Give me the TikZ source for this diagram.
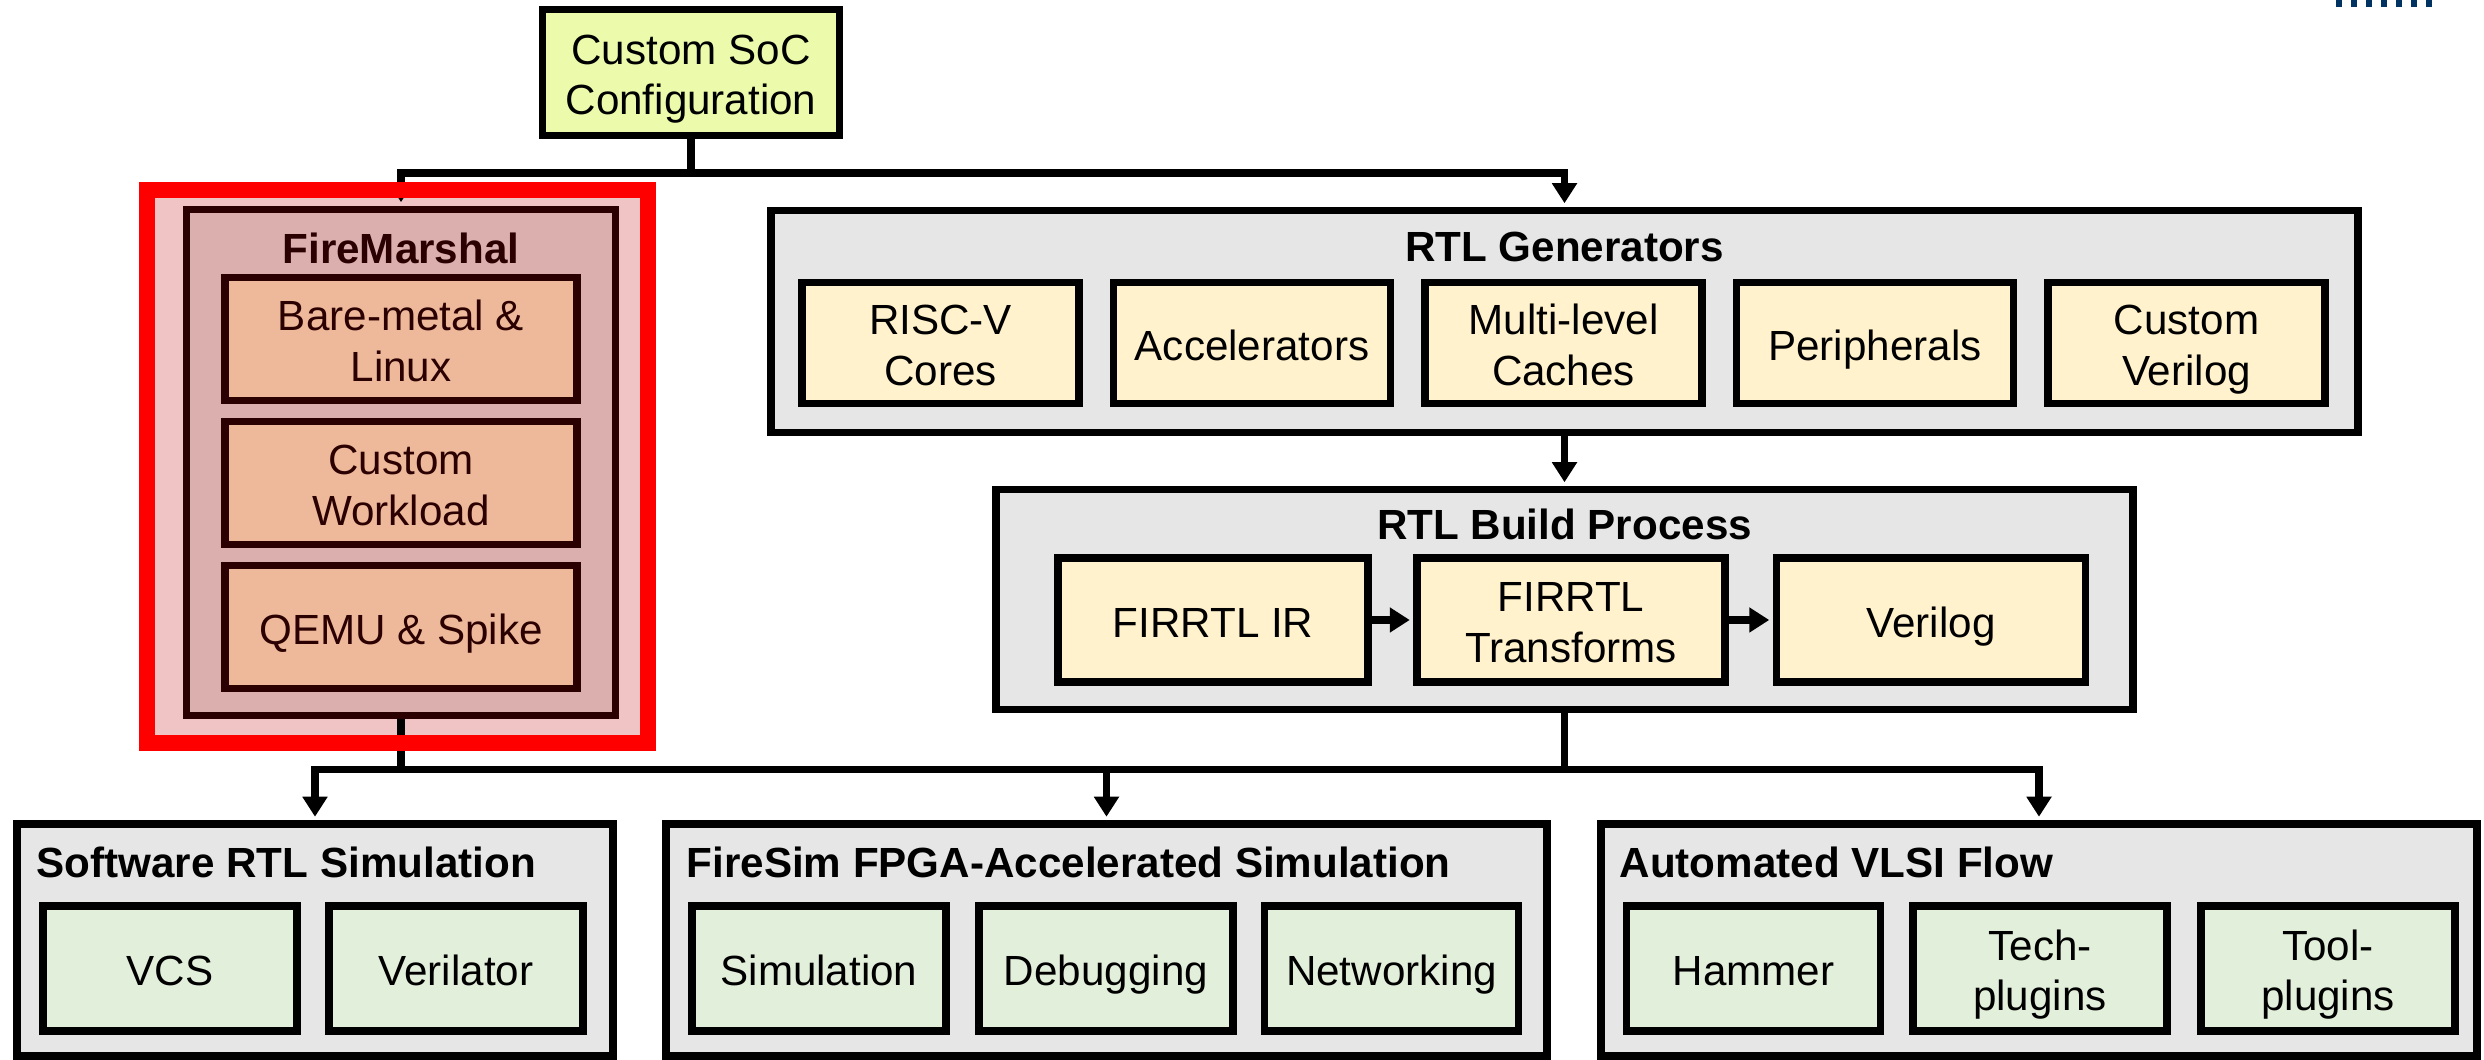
\documentclass[tikz,border=0pt]{standalone}
\usepackage{fontspec}
\setmainfont{Liberation Sans}
\usetikzlibrary{arrows.meta}
\definecolor{socfill}{HTML}{EBFBAB}
\definecolor{grpfill}{HTML}{E6E6E6}
\definecolor{rtlfill}{HTML}{FFF2CC}
\definecolor{simfill}{HTML}{E2EFDA}
\definecolor{hlred}{HTML}{FF0000}
\definecolor{hlpink}{HTML}{F0C4C4}
\definecolor{fmfill}{HTML}{DCAFAF}
\definecolor{fmbox}{HTML}{EEB89A}
\definecolor{fmline}{HTML}{2B0000}
\definecolor{calblue}{HTML}{003262}
\newcommand\diagfont{\fontsize{12pt}{14.4pt}\selectfont}
\newcommand\linestrut{\rule[-2.54pt]{0pt}{14.8pt}}
\newcommand\twolines[2]{\linestrut#1\\#2}
\begin{document}
\begin{tikzpicture}[x=1cm,y=-1cm,font=\diagfont,
    >={Triangle[length=0.2cm,width=0.24cm]},
    box/.style={draw,line width=0.075cm,align=center,inner sep=0pt,font=\diagfont,
        execute at begin node=\linestrut,execute at end node=\linestrut},
    group/.style={box,fill=grpfill},
    gitem/.style={box,fill=rtlfill,minimum width=2.77cm,minimum height=1.21cm},
    sitem/.style={box,fill=simfill,minimum width=2.54cm,minimum height=1.25cm},
    fitem/.style={box,draw=fmline,text=fmline,fill=fmbox,minimum width=3.52cm,minimum height=1.23cm},
    title/.style={inner sep=0pt,font=\diagfont\bfseries},
    bus/.style={line width=0.075cm},
    link/.style={->,line width=0.075cm,shorten >=0.035cm}]
    \useasboundingbox (0,0) rectangle (24.84,10.60);
    \foreach \i in {0,...,6}
        \fill[calblue] (23.36+0.15*\i,0) rectangle ++(0.06,0.07);

    \node[fill=hlpink,minimum width=4.99cm,minimum height=5.51cm,inner sep=0pt] (hl) at (3.975,4.665) {};
    \node[box,draw=fmline,fill=fmfill,minimum width=4.29cm,minimum height=5.06cm] (fm) at (4.01,4.625) {};
    \node[title,text=fmline] (fmtitle) at (4.01,2.48) {FireMarshal};
    \node[fitem] (bare) at (4.01,3.39) {\twolines{Bare-metal \&}{Linux}};
    \node[fitem] (work) at (4.01,4.83) {\twolines{Custom}{Workload}};
    \node[fitem] (qemu) at (4.01,6.27) {QEMU \& Spike};

    \node[box,fill=socfill,minimum width=2.97cm,minimum height=1.26cm] (soc) at (6.91,0.725) {\twolines{Custom SoC}{Configuration}};

    \node[group,minimum width=15.87cm,minimum height=2.22cm] (gen) at (15.645,3.215) {};
    \node[title] (gentitle) at (15.645,2.47) {RTL Generators};
    \node[gitem] (cores) at (9.405,3.43) {\twolines{RISC-V}{Cores}};
    \node[gitem] (accel) at (12.52,3.43) {Accelerators};
    \node[gitem] (cache) at (15.635,3.43) {\twolines{Multi-level}{Caches}};
    \node[gitem] (periph) at (18.75,3.43) {Peripherals};
    \node[gitem] (custv) at (21.865,3.43) {\twolines{Custom}{Verilog}};

    \node[group,minimum width=11.37cm,minimum height=2.20cm] (build) at (15.645,5.995) {};
    \node[title] (buildtitle) at (15.645,5.24) {RTL Build Process};
    \node[gitem,minimum width=3.10cm,minimum height=1.24cm] (ir) at (12.13,6.20) {FIRRTL IR};
    \node[gitem,minimum width=3.08cm,minimum height=1.24cm] (xform) at (15.71,6.20) {\twolines{FIRRTL}{Transforms}};
    \node[gitem,minimum width=3.09cm,minimum height=1.24cm] (vlog) at (19.31,6.20) {Verilog};

    \node[group,minimum width=5.96cm,minimum height=2.32cm] (sw) at (3.15,9.40) {};
    \node[title,anchor=west] (swtitle) at (0.36,8.62) {Software RTL Simulation};
    \node[sitem] (vcs) at (1.70,9.685) {VCS};
    \node[sitem] (vtor) at (4.56,9.685) {Verilator};

    \node[group,minimum width=8.81cm,minimum height=2.32cm] (fsim) at (11.065,9.40) {};
    \node[title,anchor=west] (fsimtitle) at (6.86,8.62) {FireSim FPGA-Accelerated Simulation};
    \node[sitem] (simu) at (8.19,9.685) {Simulation};
    \node[sitem] (debug) at (11.06,9.685) {Debugging};
    \node[sitem] (net) at (13.915,9.685) {Networking};

    \node[group,minimum width=8.76cm,minimum height=2.32cm] (vlsi) at (20.39,9.40) {};
    \node[title,anchor=west] (vlsititle) at (16.19,8.62) {Automated VLSI Flow};
    \node[sitem] (hammer) at (17.535,9.685) {Hammer};
    \node[sitem] (tech) at (20.40,9.685) {\twolines{Tech-}{plugins}};
    \node[sitem] (tool) at (23.28,9.685) {\twolines{Tool-}{plugins}};

    \coordinate (topbus) at (6.91,1.73);
    \coordinate (botbus) at (15.645,7.695);
    \coordinate (fmbus) at (4.01,7.695);
    \draw[bus] (soc.south) -- (topbus);
    \draw[link] (topbus) -| (fm.north);
    \draw[link] (topbus) -| (gen.north);
    \draw[link] (gen.south) -- (build.north);
    \draw[link] (ir.east) -- (xform.west);
    \draw[link] (xform.east) -- (vlog.west);
    \draw[bus] (build.south) -- (botbus);
    \draw[bus] (fm.south) -- (fmbus);
    \draw[link] (botbus) -| (sw.north);
    \draw[link] (botbus) -| (fsim.north);
    \draw[link] (botbus) -| (vlsi.north);

    \draw[hlred,line width=0.16cm] (hl.south west) rectangle (hl.north east);
\end{tikzpicture}
\end{document}
